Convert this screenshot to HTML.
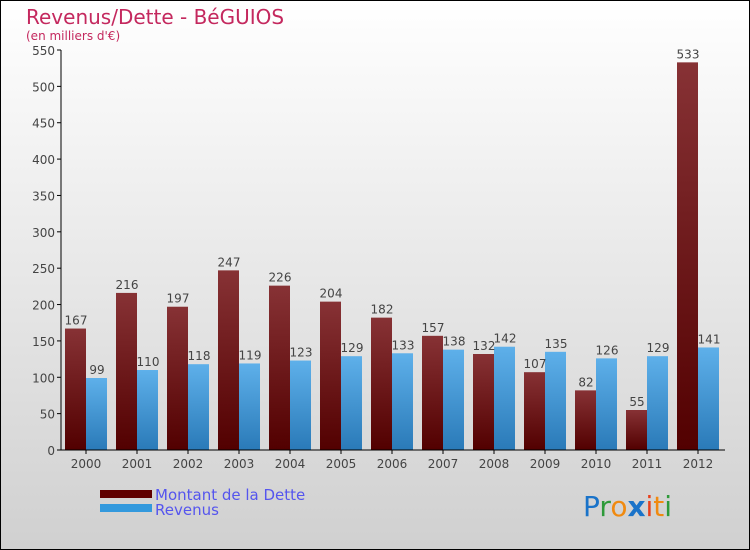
<!DOCTYPE html>
<html><head><meta charset="utf-8"><style>
body{margin:0}
#c{position:relative;width:748px;height:548px;border:1px solid #000;background:linear-gradient(#fff,#d0d0d0);font-family:"DejaVu Sans","Liberation Sans",sans-serif;overflow:hidden}
</style></head><body>
<div id="c">
<svg width="748" height="548" id="s">
<defs>
<linearGradient id="gd" x1="0" y1="0" x2="0" y2="1"><stop offset="0" stop-color="#873235"/><stop offset="1" stop-color="#520000"/></linearGradient>
<linearGradient id="gr" x1="0" y1="0" x2="0" y2="1"><stop offset="0" stop-color="#5eb0ea"/><stop offset="1" stop-color="#2a7ab8"/></linearGradient>
</defs>
<text x="25" y="23" font-size="20" fill="#c4285e">Revenus/Dette - BéGUIOS</text>
<text x="25" y="39" font-size="12" fill="#c4285e">(en milliers d'€)</text>
<g id="plot"></g>
<rect x="99" y="489" width="52" height="8" fill="#600000"/>
<rect x="99" y="503" width="52" height="8" fill="#3399dd"/>
<text x="154" y="499" font-size="15" fill="#5555ee">Montant de la Dette</text>
<text x="154" y="514" font-size="15" fill="#5555ee">Revenus</text>
<g font-size="28" font-family="'DejaVu Sans',sans-serif">
<text x="582" y="515"><tspan fill="#1a73c9">P</tspan><tspan fill="#2e9a3a">r</tspan><tspan fill="#f08a10">o</tspan><tspan fill="#1a73c9" font-weight="bold">x</tspan><tspan fill="#e8401c">i</tspan><tspan fill="#f08a10">t</tspan><tspan fill="#2e9a3a">i</tspan></text>
</g>
</svg>
</div>
<script>
const years=["2000","2001","2002","2003","2004","2005","2006","2007","2008","2009","2010","2011","2012"];
const dette=[167,216,197,247,226,204,182,157,132,107,82,55,533];
const revenus=[99,110,118,119,123,129,133,138,142,135,126,129,141];
const yTicks=[0,50,100,150,200,250,300,350,400,450,500,550];
const NS="http://www.w3.org/2000/svg";
const g=document.getElementById('plot');
const y=v=>449-v*400/550;
const x=i=>64+i*51;
function mk(t,a){const e=document.createElementNS(NS,t);for(const k in a)e.setAttribute(k,a[k]);g.appendChild(e);return e;}
yTicks.forEach(t=>{
 const l=mk('line',{x1:56,x2:60,y1:y(t),y2:y(t),stroke:'#000'});
 
 
 const tx=mk('text',{x:54,y:y(t)+5,'text-anchor':'end','font-size':12,fill:'#444'});
 tx.textContent=t;
 
 
});
years.forEach((yr,i)=>{
 const d=mk('rect',{x:x(i),y:y(dette[i]),width:21,height:y(0)-y(dette[i]),fill:'url(#gd)'});
 
 
 const r=mk('rect',{x:x(i)+21,y:y(revenus[i]),width:21,height:y(0)-y(revenus[i]),fill:'url(#gr)'});
 
 
 const t1=mk('text',{x:x(i)+11,y:y(dette[i])-4,'text-anchor':'middle','font-size':12,fill:'#444'});
 t1.textContent=dette[i];
 
 
 const t2=mk('text',{x:x(i)+32,y:y(revenus[i])-4,'text-anchor':'middle','font-size':12,fill:'#444'});
 t2.textContent=revenus[i];
 
 
 const xl=mk('text',{x:x(i)+21,y:467,'text-anchor':'middle','font-size':12,fill:'#444'});
 xl.textContent=yr;
 
 
 const xt=mk('line',{x1:x(i)+21,x2:x(i)+21,y1:449,y2:453,stroke:'#000'});
 
 
});
const ya=mk('line',{x1:60,x2:60,y1:y(550),y2:449,stroke:'#000'});


const xa=mk('line',{x1:60,x2:724,y1:449,y2:449,stroke:'#000'});


</script>
</body></html>
